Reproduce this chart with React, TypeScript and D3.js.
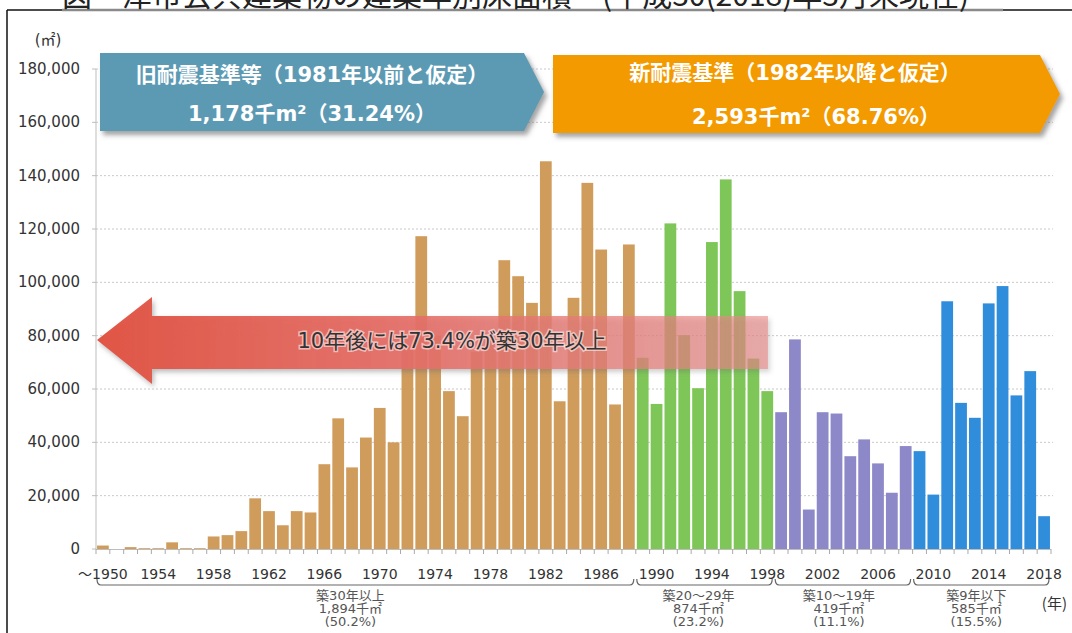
import React from 'react';
import * as d3 from 'd3';

// ---- data (floor area in ㎡ by construction year) ----
const FIRST_YEAR = 1950;
// 1950–1988 (築30年以上)
const over30Values = [
  1300, 0, 700, 300, 300, 2500, 300, 300, 4700, 5200,
  6700, 19000, 14200, 8900, 14200, 13700, 31800, 49000, 30600, 41800,
  52900, 40000, 76000, 117300, 80000, 59200, 49800, 74000, 79000, 108300,
  102300, 92300, 145400, 55400, 94200, 137300, 112300, 54200, 114200,
];
// 1989–1998 (築20～29年)
const age20to29Values = [71700, 54400, 122100, 80200, 60300, 115100, 138600, 96700, 71400, 59200];
// 1999–2008 (築10～19年)
const age10to19Values = [51300, 78600, 14800, 51300, 50800, 34800, 41100, 32100, 21100, 38600];
// 2009–2018 (築9年以下)
const age9Values = [36700, 20400, 92900, 54800, 49200, 92100, 98600, 57600, 66700, 12300];

const groupColors = ['#D09C5C', '#7EC658', '#8D88C8', '#2F8DDC'];
const groupLabels = [
  ['築30年以上', '1,894千㎡', '(50.2%)'],
  ['築20～29年', '874千㎡', '(23.2%)'],
  ['築10～19年', '419千㎡', '(11.1%)'],
  ['築9年以下', '585千㎡', '(15.5%)'],
];

const yTicks = [0, 20000, 40000, 60000, 80000, 100000, 120000, 140000, 160000, 180000];
const xTickYears = [1950, 1954, 1958, 1962, 1966, 1970, 1974, 1978, 1982, 1986, 1990, 1994, 1998, 2002, 2006, 2010, 2014, 2018];
const xTickLabels = ['〜1950', '1954', '1958', '1962', '1966', '1970', '1974', '1978', '1982', '1986', '1990', '1994', '1998', '2002', '2006', '2010', '2014', '2018'];

const titleText = '図　津市公共建築物の建築年別床面積　(平成30(2018)年3月末現在)';
const oldStdLines = ['旧耐震基準等（1981年以前と仮定）', '1,178千m²（31.24%）'];
const newStdLines = ['新耐震基準（1982年以降と仮定）', '2,593千m²（68.76%）'];
const arrowText = '10年後には73.4%が築30年以上';

const FONT = "'DejaVu Sans', 'Noto Sans CJK JP', sans-serif";
const JFONT = "'Noto Sans CJK JP', sans-serif";

export default function App() {
  const W = 1072;
  const H = 633;
  const series = [over30Values, age20to29Values, age10to19Values, age9Values];
  const data: { year: number; value: number; group: number }[] = [];
  let yr = FIRST_YEAR;
  series.forEach((vals, gi) => vals.forEach((v) => data.push({ year: yr++, value: v, group: gi })));
  const years = data.map((d) => d.year);

  const plotL = 96;
  const plotR = 1051;
  const baseY = 549;
  const x = d3.scaleBand<number>().domain(years).range([plotL, plotR]).paddingInner(0.15).paddingOuter(0.075);
  const y = d3.scaleLinear().domain([0, 180000]).range([baseY, 69]);
  const step = x.step();
  const bw = x.bandwidth();
  const bound = (yv: number) => (x(yv) as number) - (step - bw) / 2;

  const groupRanges: [number, number][] = [];
  let start = FIRST_YEAR;
  series.forEach((vals) => {
    groupRanges.push([start, start + vals.length - 1]);
    start += vals.length;
  });
  const labelShift = [-15, -6, -4, -5];

  const aTip = plotL + 1;
  const aHead = 152;
  const arrowPath = `M${aTip},340 L${aHead},297 L${aHead},316 L768,316 L768,369 L${aHead},369 L${aHead},384 Z`;

  return (
    <svg width={W} height={H} style={{ position: 'absolute', left: 0, top: 0, background: '#fff' }}>
      <defs>
        <linearGradient id="redGrad" x1="0" x2="1" y1="0" y2="0">
          <stop offset="0" stopColor="#E05545" stopOpacity={1} />
          <stop offset="0.45" stopColor="#E56D66" stopOpacity={0.92} />
          <stop offset="1" stopColor="#E98A88" stopOpacity={0.6} />
        </linearGradient>
        <filter id="shadow" x="-10%" y="-20%" width="125%" height="160%">
          <feDropShadow dx="3" dy="4" stdDeviation="2.5" floodColor="#555" floodOpacity="0.55" />
        </filter>
        <filter id="shadow2" x="-10%" y="-30%" width="125%" height="170%">
          <feDropShadow dx="2" dy="3" stdDeviation="2.5" floodColor="#666" floodOpacity="0.45" />
        </filter>
      </defs>

      {/* frame and title */}
      <line x1={7} x2={W} y1={10} y2={10} stroke="#111" strokeWidth={1.5} />
      <line x1={7} x2={7} y1={10} y2={H} stroke="#111" strokeWidth={1.5} />
      <line x1={62} x2={1003} y1={10} y2={10} stroke="#8a8a8a" strokeWidth={2.5} />
      <text x={62} y={6} fontFamily={JFONT} fontSize={30} fill="#222">{titleText}</text>

      {/* gridlines */}
      {yTicks.filter((t) => t > 0).map((t) => (
        <line key={t} x1={plotL} x2={plotR + 2} y1={y(t)} y2={y(t)} stroke="#c9c9c9" strokeWidth={1} strokeDasharray="2,2" />
      ))}

      {/* y axis */}
      <line x1={plotL} x2={plotL} y1={y(180000)} y2={baseY} stroke="#bdbdbd" strokeWidth={1} />
      {yTicks.map((t) => (
        <g key={t}>
          <line x1={plotL - 4} x2={plotL} y1={y(t)} y2={y(t)} stroke="#bdbdbd" />
          <text x={80} y={y(t) + 5} textAnchor="end" fontFamily={FONT} fontSize={15} fill="#333">{d3.format(',')(t)}</text>
        </g>
      ))}
      <text x={48} y={45} textAnchor="middle" fontFamily={FONT} fontSize={15} fill="#333">(㎡)</text>

      {/* bars */}
      {data.map((d) => (
        <rect key={d.year} x={x(d.year)} y={y(d.value)} width={bw} height={baseY - y(d.value)} fill={groupColors[d.group]} />
      ))}

      {/* x axis */}
      <line x1={plotL} x2={plotR} y1={baseY + 0.5} y2={baseY + 0.5} stroke="#bdbdbd" />
      {years.concat([years[years.length - 1] + 1]).map((yv, i) => {
        const bx = i < years.length ? bound(yv) : plotR;
        return <line key={'t' + i} x1={bx} x2={bx} y1={baseY} y2={baseY + 5} stroke="#aaa" />;
      })}
      {xTickYears.map((yv, i) => (
        <text key={yv} x={(x(yv) as number) + bw / 2} y={579} textAnchor="middle" fontFamily={FONT} fontSize={14} fill="#333">{xTickLabels[i]}</text>
      ))}

      {/* group brackets */}
      {groupRanges.map(([a, b], gi) => {
        const x1 = bound(a) + 1;
        const x2 = bound(b) + step - 2;
        const by = 585;
        const mid = (x1 + x2) / 2 + labelShift[gi];
        return (
          <g key={'g' + gi}>
            <path d={`M${x1},${by - 6} Q${x1},${by} ${x1 + 4},${by} L${x2 - 4},${by} Q${x2},${by} ${x2},${by - 6}`} fill="none" stroke="#666" strokeWidth={1.2} />
            {groupLabels[gi].map((s, li) => (
              <text key={li} x={mid} y={600 + li * 13} textAnchor="middle" fontFamily={FONT} fontSize={13} fill="#555">{s}</text>
            ))}
          </g>
        );
      })}
      <text x={1067} y={609} textAnchor="end" fontFamily={JFONT} fontSize={15} fill="#333">(年)</text>

      {/* red arrow */}
      <path d={arrowPath} fill="url(#redGrad)" filter="url(#shadow2)" />
      <text x={452} y={348} textAnchor="middle" fontFamily={FONT} fontSize={21} fill="#333" stroke="rgba(255,255,255,0.55)" strokeWidth={3} paintOrder="stroke">{arrowText}</text>

      {/* standard boxes */}
      <path d="M100,53 L524,53 L544,92 L524,131 L100,131 Z" fill="#5B9AB4" filter="url(#shadow)" />
      <text x={312} y={82} textAnchor="middle" fontFamily={FONT} fontWeight="bold" fontSize={21} fill="#fff">{oldStdLines[0]}</text>
      <text x={312} y={121} textAnchor="middle" fontFamily={FONT} fontWeight="bold" fontSize={21} fill="#fff">{oldStdLines[1]}</text>
      <path d="M553,55 L1040,55 L1060,94 L1040,133 L553,133 Z" fill="#F39A00" filter="url(#shadow)" />
      <text x={795} y={80} textAnchor="middle" fontFamily={FONT} fontWeight="bold" fontSize={21} fill="#fff">{newStdLines[0]}</text>
      <text x={816} y={124} textAnchor="middle" fontFamily={FONT} fontWeight="bold" fontSize={21} fill="#fff">{newStdLines[1]}</text>
    </svg>
  );
}
